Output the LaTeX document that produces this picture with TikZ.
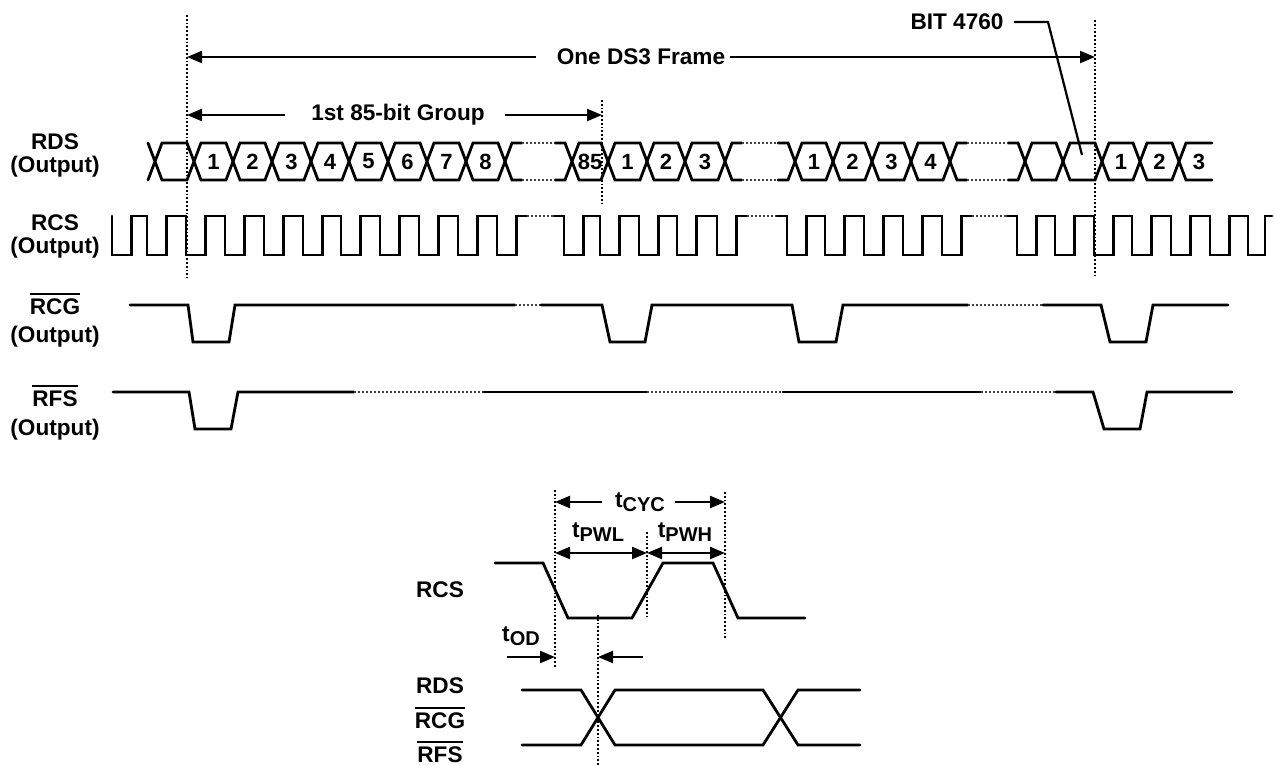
\documentclass[tikz,border=0pt]{standalone}
\usepackage{fontspec}
\setmainfont{Liberation Sans}
\usetikzlibrary{arrows.meta}

\newcommand{\tsub}[1]{t\raisebox{-2pt}{\fontsize{10}{12}\selectfont #1}}
\newcommand{\barlbl}[1]{{\setbox0\hbox{#1}\rlap{\rule[\dimexpr\ht0+1.6pt\relax]{\wd0}{1pt}}\box0}}

\begin{document}
\begin{tikzpicture}[
    x=0.5pt, y=-0.5pt,
    font=\bfseries\fontsize{11.3}{13}\selectfont,
    >={Triangle[length=7.5pt, width=6pt]},
    wave/.style={line width=1.4pt, line join=miter, line cap=round},
    gapline/.style={line width=1pt, densely dotted, black!75},
    guide/.style={line width=0.9pt, densely dotted},
    dim/.style={line width=1.1pt},
    bitnum/.style={font=\bfseries\fontsize{11}{12}\selectfont, inner sep=0pt},
    lbl/.style={anchor=base, inner sep=0pt},
    span/.style={inner sep=2pt},
]
    \useasboundingbox (0,0) rectangle (1274,765);

    % --- Signal names ---
    \node[lbl] (rdsname) at (55,149) {RDS};
    \node[lbl] (rdsout) at (55,172) {(Output)};
    \node[lbl] (rcsname) at (55,230) {RCS};
    \node[lbl] (rcsout) at (55,253) {(Output)};
    \node[lbl] (rcgname) at (55,314) {\barlbl{RCG}};
    \node[lbl] (rcgout) at (55,342) {(Output)};
    \node[lbl] (rfsname) at (55,406) {\barlbl{RFS}};
    \node[lbl] (rfsout) at (55,435) {(Output)};

    % --- Frame markers ---
    \draw[guide] (187,15) -- (187,278);
    \draw[guide] (602,100) -- (602,203);
    \draw[guide] (1095,20) -- (1095,275);

    \coordinate (frameL) at (187,57);
    \coordinate (frameR) at (1095,57);
    \node[span] (frametxt) at (641,57) {One DS3 Frame};
    \draw[dim,->,shorten <=8pt] (frametxt.west) -- (frameL);
    \draw[dim,->] (frametxt.east) -- (frameR);

    \coordinate (groupL) at (187,115);
    \coordinate (groupR) at (602,115);
    \node[span] (grouptxt) at (398,115) {1st 85-bit Group};
    \draw[dim,->,shorten <=11pt] (grouptxt.west) -- (groupL);
    \draw[dim,->,shorten <=8pt] (grouptxt.east) -- (groupR);

    \node[span] (bittxt) at (957,22) {BIT 4760};
    \coordinate (bitknee) at (1048,22);
    \coordinate (bitpt) at (1082,155);
    \draw[dim,shorten <=3pt] (bittxt.east) -- (bitknee) -- (bitpt);

    % --- RDS Row ---
    \draw[wave] (148,143) -- (155,161.5) -- (148,180);
    \foreach \a/\b in {155/194,1025/1063,1063/1102}
        \draw[wave] (\a,161.5) -- (\a+7,143) -- (\b-7,143) -- (\b,161.5) -- (\b-7,180) -- (\a+7,180) -- cycle;
    \foreach \a/\b/\t in {194/233/1,233/272/2,272/311/3,311/349/4,349/388/5,388/427/6,427/466/7,466/505/8,
                          572/608/85,608/647/1,647/685/2,685/725/3,
                          795/833/1,833/872/2,872/911/3,911/950/4,
                          1102/1140/1,1140/1179/2} {
        \draw[wave] (\a,161.5) -- (\a+7,143) -- (\b-7,143) -- (\b,161.5) -- (\b-7,180) -- (\a+7,180) -- cycle;
        \node[bitnum] (bit\a) at ({(\a+\b)/2},161.5) {\t};
    }
    \foreach \a/\b in {505/572,725/795,950/1025} {
        \draw[wave] (\a+17,143) -- (\a+7,143) -- (\a,161.5) -- (\a+7,180) -- (\a+17,180);
        \draw[wave] (\b-17,143) -- (\b-7,143) -- (\b,161.5) -- (\b-7,180) -- (\b-17,180);
        \draw[gapline] (\a+17,143) -- (\b-17,143) (\a+17,180) -- (\b-17,180);
    }
    \draw[wave] (1212,143) -- (1186,143) -- (1179,161.5) -- (1186,180) -- (1212,180);
    \node[bitnum] (bitlast) at (1199,161.5) {3};

    % --- RCS Row ---
    \draw[wave] (112,216) foreach \c/\n in {120/155,155/194,194/233,233/272,272/311,311/349,349/388,388/427,427/466,466/505}
        { -- (\c-8,255) -- (\c+11.5,255) -- (\c+11.5,216) -- (\n-8,216) }
        -- (497,255) -- (516.5,255) -- (516.5,216) -- (526.5,216);
    \draw[gapline] (526.5,216) -- (554,216);
    \draw[wave] (554,216) -- (564,216) foreach \c/\n in {572/608,608/647,647/685,685/725}
        { -- (\c-8,255) -- (\c+11.5,255) -- (\c+11.5,216) -- (\n-8,216) }
        -- (717,255) -- (736.5,255) -- (736.5,216) -- (746.5,216);
    \draw[gapline] (746.5,216) -- (777,216);
    \draw[wave] (777,216) -- (787,216) foreach \c/\n in {795/833,833/872,872/911,911/950}
        { -- (\c-8,255) -- (\c+11.5,255) -- (\c+11.5,216) -- (\n-8,216) }
        -- (942,255) -- (961.5,255) -- (961.5,216) -- (971.5,216);
    \draw[gapline] (971.5,216) -- (1007,216);
    \draw[wave] (1007,216) -- (1017,216) foreach \c/\n in {1025/1063,1063/1102,1102/1140,1140/1179,1179/1218,1218/1256}
        { -- (\c-8,255) -- (\c+11.5,255) -- (\c+11.5,216) -- (\n-8,216) }
        -- (1248,255) -- (1265,255) -- (1265,216) -- (1272,216);

    % --- RCG Row ---
    \draw[wave] (130,305) -- (188,305) -- (193,342) -- (229,342) -- (235,305) -- (515,305);
    \draw[gapline] (515,305) -- (541,305);
    \draw[wave] (541,305) -- (602,305) -- (610,342) -- (645,342) -- (652,305)
        -- (792,305) -- (799,342) -- (836,342) -- (843,305) -- (968,305);
    \draw[gapline] (968,305) -- (1043,305);
    \draw[wave] (1043,305) -- (1101,305) -- (1110,342) -- (1146,342) -- (1153,305) -- (1228,305);

    % --- RFS Row ---
    \draw[wave] (113,392) -- (189,392) -- (195,429) -- (231,429) -- (238,392) -- (354,392);
    \draw[gapline] (354,392) -- (484,392);
    \draw[wave] (484,392) -- (647,392);
    \draw[gapline] (647,392) -- (783,392);
    \draw[wave] (783,392) -- (981,392);
    \draw[gapline] (981,392) -- (1056,392);
    \draw[wave] (1056,392) -- (1093,392) -- (1104,429) -- (1140,429) -- (1147,392) -- (1232,392);

    % --- Timing detail ---
    \node[lbl] (rcsdet) at (440,597) {RCS};
    \node[lbl] (rdsdet) at (440,693) {RDS};
    \node[lbl] (rcgdet) at (440,728) {\barlbl{RCG}};
    \node[lbl] (rfsdet) at (440,762) {\barlbl{RFS}};

    \draw[wave] (495,563) -- (543,563) -- (568,618) -- (632,618) -- (663,563) -- (713,563) -- (738,618) -- (805,618);
    \draw[wave] (522,690) -- (581,690) -- (615,745) -- (763,745) -- (798,690) -- (860,690);
    \draw[wave] (522,745) -- (581,745) -- (615,690) -- (763,690) -- (798,745) -- (860,745);

    \draw[guide] (555,490) -- (555,667);
    \draw[guide] (647,532) -- (647,618);
    \draw[guide] (725,492) -- (725,640);
    \draw[guide] (598,615) -- (598,765);

    \coordinate (cycL) at (555,502);
    \coordinate (cycR) at (725,502);
    \node[lbl] (cyctxt) at (640,507) {\tsub{CYC}};
    \draw[dim,->] (602,502) -- (cycL);
    \draw[dim,->] (675,502) -- (cycR);

    \coordinate (pwlL) at (555,553);
    \coordinate (pwlR) at (647,553);
    \coordinate (pwhR) at (725,553);
    \node[lbl] (pwltxt) at (598,537) {\tsub{PWL}};
    \node[lbl] (pwhtxt) at (685,537) {\tsub{PWH}};
    \draw[dim,<->] (pwlL) -- (pwlR);
    \draw[dim,<->] (pwlR) -- (pwhR);

    \coordinate (odL) at (555,657);
    \coordinate (odR) at (598,657);
    \node[lbl] (odtxt) at (521,641) {\tsub{OD}};
    \draw[dim,->] (507,657) -- (odL);
    \draw[dim,->] (643,657) -- (odR);

\end{tikzpicture}
\end{document}
